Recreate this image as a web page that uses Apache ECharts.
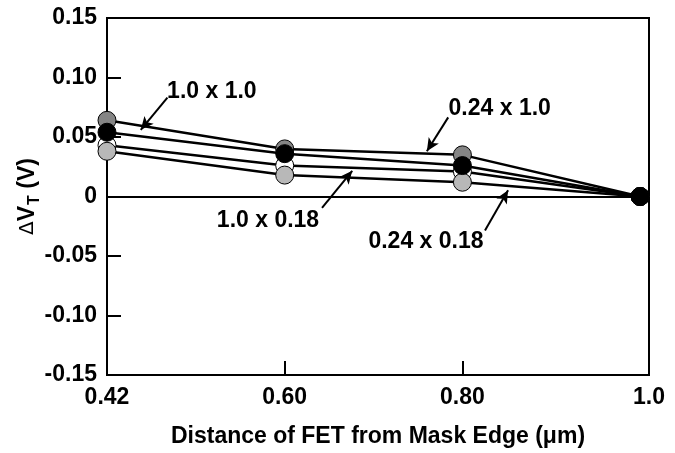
<!DOCTYPE html>
<html>
<head>
<meta charset="utf-8">
<script src="https://cdn.jsdelivr.net/npm/echarts@6/dist/echarts.min.js"></script>
<style>
  html, body { margin: 0; padding: 0; background: #fff; }
  #chart { width: 675px; height: 453px; }
</style>
</head>
<body>
<div id="chart"></div>
<script>
// x positions are equally spaced in the original, so plot by index and label them
var tickLabels = ['0.42', '0.60', '0.80', '1.0'];
var xIdx = [0, 1, 2, 3];
var xMax = 3.05;

// dVT (V) per FET size (W x L)
var s024x10 = [0.064, 0.040, 0.035, 0];
var s10x10 = [0.054, 0.036, 0.026, 0];
var s10x018 = [0.043, 0.026, 0.021, 0];
var s024x018 = [0.038, 0.018, 0.012, 0];

// annotation: label position, arrow start, arrow tip (in axis units)
var notes = [
  { text: '1.0 x 1.0',   at: [0.59, 0.088],  from: [0.34, 0.083],   to: [0.19, 0.056] },
  { text: '0.24 x 1.0',  at: [2.21, 0.074],  from: [1.92, 0.0665],  to: [1.80, 0.038] },
  { text: '1.0 x 0.18',  at: [0.906, -0.020], from: [1.21, -0.0095], to: [1.38, 0.0216] },
  { text: '0.24 x 0.18', at: [1.795, -0.038], from: [2.127, -0.0285], to: [2.257, 0.0052] }
];

var FONT = 'Liberation Sans, Arial, Helvetica, sans-serif';

function pts(vals) {
  return xIdx.map(function (x, i) { return [x, vals[i]]; });
}

function fet(name, vals, fill) {
  return {
    name: name,
    type: 'line',
    data: pts(vals),
    symbol: 'circle',
    symbolSize: 18,
    lineStyle: { color: '#000', width: 2.5 },
    itemStyle: { color: fill, borderColor: '#000', borderWidth: 1 },
    silent: true
  };
}

var myChart = echarts.init(document.getElementById('chart'), null, { renderer: 'canvas' });

var option = {
  animation: false,
  backgroundColor: '#fff',
  textStyle: { fontFamily: FONT },
  grid: {
    left: 107, right: 26, top: 18, bottom: 75,
    show: true, borderColor: '#000', borderWidth: 2
  },
  xAxis: {
    type: 'value',
    min: 0,
    max: xMax,
    name: 'Distance of FET from Mask Edge (\u03bcm)',
    nameLocation: 'middle',
    nameGap: 50,
    nameTextStyle: { fontSize: 23, fontWeight: 'bold', color: '#000', fontFamily: FONT },
    axisLine: { show: true, onZero: false, lineStyle: { color: '#000', width: 2 } },
    axisTick: { show: true, inside: true, length: 14, customValues: [1, 2], lineStyle: { color: '#000', width: 2 } },
    axisLabel: {
      customValues: [0, 1, 2, xMax],
      margin: 11,
      fontSize: 23, fontWeight: 'bold', color: '#000', fontFamily: FONT,
      formatter: function (v) { return tickLabels[Math.min(3, Math.round(v))]; }
    },
    splitLine: { show: false }
  },
  yAxis: {
    type: 'value',
    min: -0.15,
    max: 0.15,
    interval: 0.05,
    name: '{d|\u0394}{v|V}{t|T}{v| (V)}',
    nameLocation: 'middle',
    nameRotate: 90,
    nameGap: 64,
    nameMoveOverlap: false,
    nameTextStyle: {
      color: '#000',
      rich: {
        d: { fontSize: 20, color: '#000', fontFamily: 'DejaVu Sans', lineHeight: 30, verticalAlign: 'middle' },
        v: { fontSize: 23, fontWeight: 'bold', color: '#000', fontFamily: FONT, lineHeight: 30, verticalAlign: 'middle' },
        t: { fontSize: 16, fontWeight: 'bold', color: '#000', fontFamily: FONT, lineHeight: 30, verticalAlign: 'bottom', padding: [0, 0, 0, 1] }
      }
    },
    axisLine: { show: true, lineStyle: { color: '#000', width: 2 } },
    axisTick: { show: true, inside: true, length: 14, lineStyle: { color: '#000', width: 2 } },
    axisLabel: {
      margin: 10,
      fontSize: 23, fontWeight: 'bold', color: '#000', fontFamily: FONT,
      formatter: function (v) { return Math.abs(v) < 1e-9 ? '0' : v.toFixed(2); }
    },
    splitLine: { show: false }
  },
  series: [
    fet('1.0 x 0.18', s10x018, '#ffffff'),
    fet('0.24 x 0.18', s024x018, '#b8b8b8'),
    fet('0.24 x 1.0', s024x10, '#858585'),
    fet('1.0 x 1.0', s10x10, '#000000'),
    {
      // zero line, labels and arrows
      type: 'scatter',
      symbolSize: 0,
      silent: true,
      z: 1,
      itemStyle: { opacity: 1, color: '#000' },
      data: notes.map(function (n) { return { name: n.text, value: n.at }; }),
      label: {
        show: true,
        position: 'inside',
        formatter: '{b}',
        opacity: 1,
        fontSize: 23, fontWeight: 'bold', color: '#000', fontFamily: FONT
      },
      markLine: {
        silent: true,
        animation: false,
        label: { show: false },
        data: [
          [{ coord: [0, 0], symbol: 'none' }, { coord: [xMax, 0], symbol: 'none' }]
        ].concat(notes.map(function (n) {
          return [
            { coord: n.from, symbol: 'none' },
            { coord: n.to, symbol: 'arrow', symbolSize: [9, 13] }
          ];
        })),
        lineStyle: { color: '#000', width: 2, type: 'solid', opacity: 1 }
      }
    }
  ]
};

myChart.setOption(option);
</script>
</body>
</html>
